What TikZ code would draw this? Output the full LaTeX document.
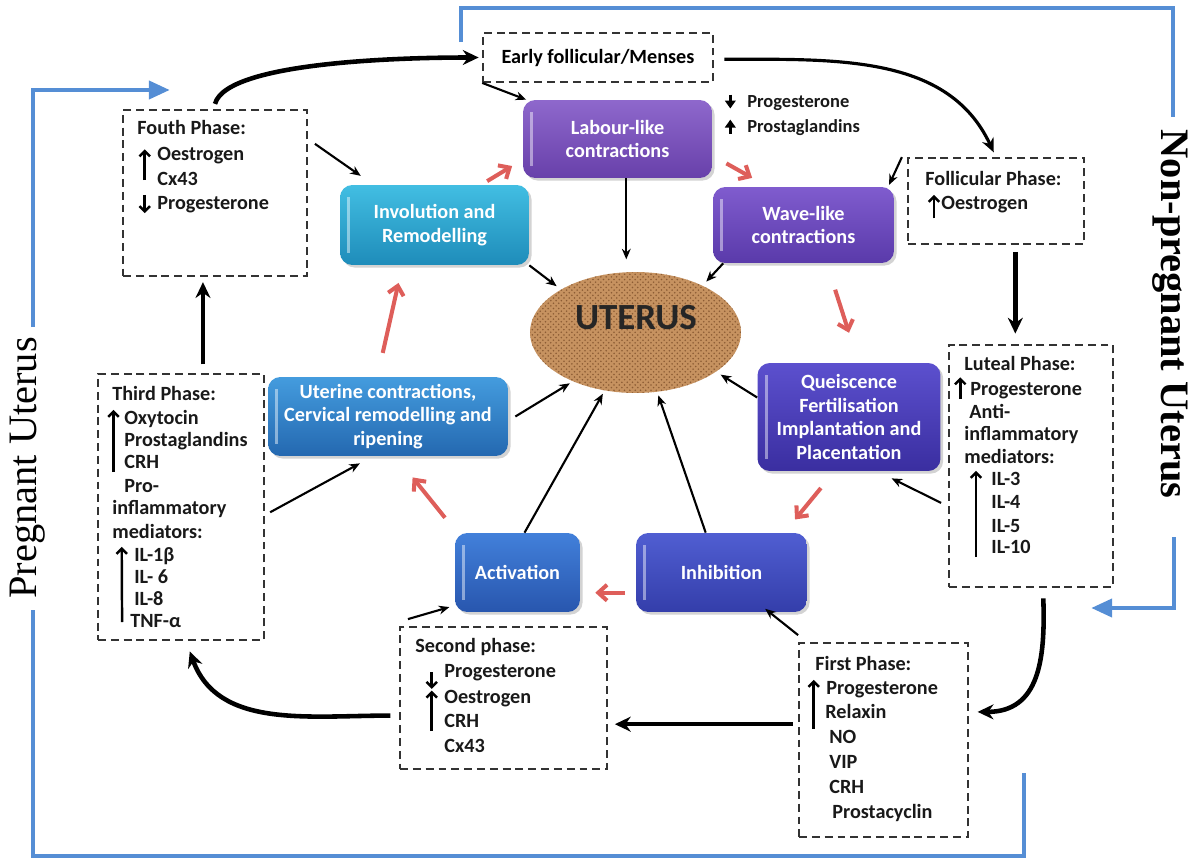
\documentclass[tikz,border=0pt]{standalone}
\usepackage{fontspec}
\setmainfont{Carlito}
\newfontfamily\timesfont{Liberation Serif}
\usepackage{tikz}
\usetikzlibrary{positioning}
\usetikzlibrary{arrows.meta}
\usetikzlibrary{shapes.geometric}
\usetikzlibrary{shadows}
\usetikzlibrary{patterns}
\pgfdeclarelayer{background}
\pgfdeclarelayer{foreground}
\pgfsetlayers{background,main,foreground}

\definecolor{frameblue}{RGB}{85,142,213}
\definecolor{arrowred}{RGB}{222,94,90}
\definecolor{cork}{RGB}{198,146,96}
\definecolor{corkdark}{RGB}{140,92,52}
\definecolor{labtop}{RGB}{142,104,204}
\definecolor{labbot}{RGB}{104,64,170}
\definecolor{wavtop}{RGB}{128,92,206}
\definecolor{wavbot}{RGB}{90,58,170}
\definecolor{invtop}{RGB}{66,190,226}
\definecolor{invbot}{RGB}{30,140,186}
\definecolor{utetop}{RGB}{68,156,222}
\definecolor{utebot}{RGB}{36,104,176}
\definecolor{acttop}{RGB}{66,128,218}
\definecolor{actbot}{RGB}{40,86,174}
\definecolor{inhtop}{RGB}{80,94,210}
\definecolor{inhbot}{RGB}{52,62,170}
\definecolor{quitop}{RGB}{92,80,206}
\definecolor{quibot}{RGB}{58,46,160}

\begin{document}
\begin{tikzpicture}[x=0.02cm, y=0.02cm,
							stagebox/.style={rectangle, rounded corners=7pt, text=white, align=center, inner sep=2pt, font=\fontsize{11.5}{13.5}\selectfont\bfseries, drop shadow={shadow xshift=1.5pt, shadow yshift=-1.5pt, opacity=.35}, path picture={\draw[white, opacity=.45, line width=1.6pt] ([xshift=5pt,yshift=-7pt]path picture bounding box.north west) -- ([xshift=5pt,yshift=7pt]path picture bounding box.south west);}},
							phasebox/.style={rectangle, draw=black!80, line width=1pt, dash pattern=on 4.5pt off 2.8pt, inner sep=0pt, font=\fontsize{11.5}{14}\selectfont\bfseries},
							entry/.style={anchor=west, inner sep=0pt, text height=8pt, text depth=2pt, text=black!90, font=\fontsize{11.5}{14}\selectfont\bfseries},
							sidenote/.style={entry, font=\fontsize{10.5}{13}\selectfont\bfseries},
							link/.style={-{Stealth[length=6pt,width=5pt]}, line width=1.2pt},
							midlink/.style={-{Stealth[length=8pt,width=7pt]}, line width=1.8pt},
							biglink/.style={-{Stealth[length=9pt,width=8.5pt]}, line width=2.6pt},
							redlink/.style={-{Straight Barb[length=5pt,width=9pt]}, line width=2.3pt, draw=arrowred},
							indic/.style={-{Straight Barb[length=3pt,width=6pt]}, line width=1.4pt},
							solidind/.style={-{Triangle[length=4.5pt,width=6pt]}, line width=2pt},
							frameline/.style={draw=frameblue, line width=2.8pt},
							]
							\useasboundingbox (0,0) rectangle (1191,-862);
							%Nodes
							\node[stagebox, top color=labtop, bottom color=labbot, minimum width=3.78cm, minimum height=1.56cm]	(labour)	at	(617.5,-139)	{Labour-like\\contractions};
							\node[stagebox, top color=wavtop, bottom color=wavbot, minimum width=3.62cm, minimum height=1.52cm]	(wave)	at	(803.5,-225)	{Wave-like\\contractions};
							\node[stagebox, top color=invtop, bottom color=invbot, minimum width=3.78cm, minimum height=1.6cm]	(involution)	at	(434.5,-225)	{Involution and\\Remodelling};
							\node[stagebox, top color=utetop, bottom color=utebot, minimum width=4.8cm, minimum height=1.58cm]	(uterine)	at	(388,-416.5)	{Uterine contractions,\\Cervical remodelling and\\ripening};
							\node[stagebox, top color=acttop, bottom color=actbot, minimum width=2.5cm, minimum height=1.58cm]	(activation)	at	(517.5,-572.5)	{Activation};
							\node[stagebox, top color=inhtop, bottom color=inhbot, minimum width=3.42cm, minimum height=1.58cm]	(inhibition)	at	(721.5,-572.5)	{Inhibition};
							\node[stagebox, top color=quitop, bottom color=quibot, minimum width=3.66cm, minimum height=2.16cm]	(quiescence)	at	(849,-417)	{Queiscence\\Fertilisation\\Implantation and\\Placentation};
							
							\node[ellipse, minimum width=4.22cm, minimum height=2.42cm, inner sep=0pt, fill=cork, postaction={pattern=crosshatch dots, pattern color=corkdark}]	(uterus)	at	(635.5,-332.5)	{};
							\node[font=\fontsize{21}{24}\selectfont\bfseries, text=black!85]	(uterustext)	at	(636,-318)	{UTERUS};
							
							\node[phasebox, minimum width=4.6cm, minimum height=0.98cm]	(early)	at	(598,-57.5)	{Early follicular/Menses};
							\node[phasebox, minimum width=3.52cm, minimum height=1.72cm]	(follicular)	at	(996,-201)	{};
							\node[phasebox, minimum width=3.28cm, minimum height=4.84cm]	(luteal)	at	(1031,-466)	{};
							\node[phasebox, minimum width=3.38cm, minimum height=3.88cm]	(first)	at	(883.5,-740)	{};
							\node[phasebox, minimum width=4.14cm, minimum height=2.84cm]	(second)	at	(503.5,-698)	{};
							\node[phasebox, minimum width=3.32cm, minimum height=5.32cm]	(third)	at	(181,-507)	{};
							\node[phasebox, minimum width=3.68cm, minimum height=3.32cm]	(fourth)	at	(215,-193)	{};
							
							\node[rotate=-90, inner sep=0pt, font=\timesfont\fontsize{23}{26}\selectfont\bfseries]	(nonpreg)	at	(1170,-314)	{Non-pregnant Uterus};
							\node[rotate=90, inner sep=0pt, font=\timesfont\fontsize{23}{26}\selectfont]	(preg)	at	(28,-468)	{Pregnant Uterus};
							
							%Box texts
							\node[entry]	(fo0)	at	(137,-129)	{Fouth Phase:};
							\node[entry]	(fo1)	at	(157,-155)	{Oestrogen};
							\node[entry]	(fo2)	at	(157,-180)	{Cx43};
							\node[entry]	(fo3)	at	(157,-204)	{Progesterone};
							
							\node[entry]	(th0)	at	(112,-395)	{Third Phase:};
							\node[entry]	(th1)	at	(124,-419)	{Oxytocin};
							\node[entry]	(th2)	at	(124,-441)	{Prostaglandins};
							\node[entry]	(th3)	at	(124,-463)	{CRH};
							\node[entry]	(th4)	at	(124,-487)	{Pro-};
							\node[entry]	(th5)	at	(112,-509)	{inflammatory};
							\node[entry]	(th6)	at	(112,-533)	{mediators:};
							\node[entry]	(th7)	at	(134,-556)	{IL-1β};
							\node[entry]	(th8)	at	(134,-578)	{IL- 6};
							\node[entry]	(th9)	at	(134,-600)	{IL-8};
							\node[entry]	(th10)	at	(130,-622)	{TNF-α};
							
							\node[entry]	(se0)	at	(415,-647)	{Second phase:};
							\node[entry]	(se1)	at	(444,-672)	{Progesterone};
							\node[entry]	(se2)	at	(444,-698)	{Oestrogen};
							\node[entry]	(se3)	at	(444,-722)	{CRH};
							\node[entry]	(se4)	at	(444,-747)	{Cx43};
							
							\node[entry]	(fi0)	at	(815,-665)	{First Phase:};
							\node[entry]	(fi1)	at	(826,-689)	{Progesterone};
							\node[entry]	(fi2)	at	(825,-713)	{Relaxin};
							\node[entry]	(fi3)	at	(829,-738)	{NO};
							\node[entry]	(fi4)	at	(829,-763)	{VIP};
							\node[entry]	(fi5)	at	(829,-788)	{CRH};
							\node[entry]	(fi6)	at	(832,-813)	{Prostacyclin};
							
							\node[entry]	(lu0)	at	(964,-365)	{Luteal Phase:};
							\node[entry]	(lu1)	at	(970,-390)	{Progesterone};
							\node[entry]	(lu2)	at	(969,-413)	{Anti-};
							\node[entry]	(lu3)	at	(964,-435)	{inflammatory};
							\node[entry]	(lu4)	at	(964,-458)	{mediators:};
							\node[entry]	(lu5)	at	(991,-480)	{IL-3};
							\node[entry]	(lu6)	at	(991,-503)	{IL-4};
							\node[entry]	(lu7)	at	(991,-527)	{IL-5};
							\node[entry]	(lu8)	at	(991,-548)	{IL-10};
							
							\node[entry]	(fl0)	at	(925,-180)	{Follicular Phase:};
							\node[entry]	(fl1)	at	(941,-204)	{Oestrogen};
							
							\node[sidenote]	(ls1)	at	(747,-102)	{Progesterone};
							\node[sidenote]	(ls2)	at	(747,-127)	{Prostaglandins};
							
							%Up and down marks
							\draw[indic] ([xshift=-7pt]fo2.west) -- ([xshift=-7pt,yshift=-2pt]fo1.north west);
							\draw[indic] ([xshift=-7pt]fo3.north west) -- ([xshift=-7pt]fo3.south west);
							\draw[indic] ([xshift=-6pt]th3.south west) -- ([xshift=-6pt]th1.north west);
							\draw[indic] ([xshift=-4.5pt]th10.west) -- ([xshift=-7pt]th7.north west);
							\draw[indic] ([xshift=-7pt]se1.west) -- ([xshift=-7pt]se2.north west);
							\draw[indic] ([xshift=-7pt]se3.south west) -- ([xshift=-7pt,yshift=-1pt]se2.north west);
							\draw[indic] ([xshift=-7pt]fi1.west |- fi3.north) -- ([xshift=-7pt]fi1.north west);
							\draw[indic] ([xshift=-5.5pt]lu1.south west) -- ([xshift=-5.5pt,yshift=2pt]lu1.north west);
							\draw[indic] ([xshift=-8.5pt]lu8.south west) -- ([xshift=-8.5pt]lu5.north west);
							\draw[indic] ([xshift=-4pt,yshift=-3pt]fl1.south west) -- ([xshift=-4pt]fl1.north west);
							\draw[solidind] ([xshift=-9.5pt,yshift=-1pt]ls1.north west) -- ([xshift=-9.5pt,yshift=1.5pt]ls1.south west);
							\draw[solidind] ([xshift=-9.5pt,yshift=1.5pt]ls2.south west) -- ([xshift=-9.5pt,yshift=-1pt]ls2.north west);
							
							%Black arrows
							\draw[biglink] ([yshift=3pt]fourth.north) to[out=75,in=180,looseness=0.45] ([xshift=-2pt]early.west);
							\draw[midlink, shorten >=3pt] ([xshift=6pt,yshift=-1pt]early.east) to[out=0,in=115] (follicular.north);
							\draw[link] (early.south west) -- ([xshift=2pt]labour.north west);
							\draw[link] ([xshift=4pt,yshift=28pt]fourth.east) -- ([xshift=12pt,yshift=5pt]involution.north west);
							\draw[link, shorten >=7pt] ([xshift=5pt]labour.south) -- ([xshift=5pt]labour.south |- uterus.north);
							\draw[link, shorten >=3pt] (involution.south east) -- (uterus.150);
							\draw[link, shorten >=3pt] ([xshift=6pt]wave.south west) -- (uterus.35);
							\draw[link, shorten >=3pt] (quiescence.168) -- (uterus.-26);
							\draw[link, shorten >=2pt] ([xshift=4pt]uterine.east) -- (uterus.218);
							\draw[link, shorten >=2pt] ([xshift=4pt]activation.north) -- (uterus.242);
							\draw[link, shorten >=2pt] ([xshift=-9pt]inhibition.north) -- (uterus.290);
							\draw[link] ([xshift=-4pt,yshift=-21pt]luteal.west) -- ([xshift=-28pt,yshift=-4pt]quiescence.south east);
							\draw[link] ([xshift=-3pt]follicular.north west) -- ([xshift=-3pt,yshift=1pt]wave.north east);
							\draw[biglink, shorten >=6pt] ([xshift=11pt,yshift=-4pt]follicular.south) -- ([xshift=11pt]follicular.south |- luteal.north);
							\draw[biglink] ([xshift=7pt,yshift=-6pt]luteal.south) to[out=-88,in=0,looseness=1.2] ([xshift=5pt,yshift=16pt]first.east);
							\draw[link] ([yshift=4pt]first.north west) -- ([xshift=-24pt,yshift=2pt]inhibition.south east);
							\draw[biglink] ([xshift=-3pt,yshift=9pt]first.west) -- ([xshift=4pt,yshift=9pt]first.west -| second.east);
							\draw[link] ([xshift=5pt,yshift=4pt]second.north west) -- ([xshift=-3pt,yshift=3pt]activation.south west);
							\draw[biglink] ([xshift=-5pt,yshift=-10pt]second.west) to[out=180,in=-70] ([xshift=5pt,yshift=-6pt]third.south);
							\draw[link] ([xshift=3pt,yshift=-3pt]third.east) -- ([xshift=-16pt,yshift=-4pt]uterine.south);
							\draw[biglink, shorten >=3pt] ([xshift=12.5pt,yshift=5pt]third.north) -- ([xshift=12.5pt]third.north |- fourth.south);
							
							%Red arrows
							\draw[redlink] ([xshift=-24pt,yshift=2pt]involution.north east) -- ([xshift=-6pt,yshift=7pt]labour.south west);
							\draw[redlink] ([xshift=8pt,yshift=8.5pt]labour.south east) -- ([xshift=22.5pt,yshift=5pt]wave.north west);
							\draw[redlink] ([xshift=18pt,yshift=-15pt]wave.south) -- ([yshift=17pt]quiescence.north);
							\draw[redlink] ([xshift=-16pt,yshift=-9.5pt]quiescence.south) -- ([xshift=-7pt,yshift=7.5pt]inhibition.north east);
							\draw[redlink] ([xshift=-6pt,yshift=-11.5pt]inhibition.west) -- ([xshift=8.5pt,yshift=-11.5pt]activation.east);
							\draw[redlink] ([xshift=-5.5pt,yshift=8.5pt]activation.north west) -- ([xshift=14pt,yshift=-12pt]uterine.south);
							\draw[redlink] ([xshift=-3pt,yshift=13.5pt]uterine.north) -- ([xshift=-20.5pt,yshift=-10pt]involution.south);
							
							\begin{pgfonlayer}{background}
							\draw[frameline] (461,-42) -- (461,-8) -- (1173,-8) -- (1173,-117);
							\draw[frameline, -{Triangle[length=12pt,width=10pt]}] (1174,-537) -- (1174,-608) -- (1091,-608);
							\draw[frameline] (1024,-773) -- (1024,-856) -- (33,-856) -- (33,-610);
							\draw[frameline, -{Triangle[length=12pt,width=10pt]}] (33,-327) -- (33,-90) -- (170,-90);
							\end{pgfonlayer}
						\end{tikzpicture}
\end{document}
